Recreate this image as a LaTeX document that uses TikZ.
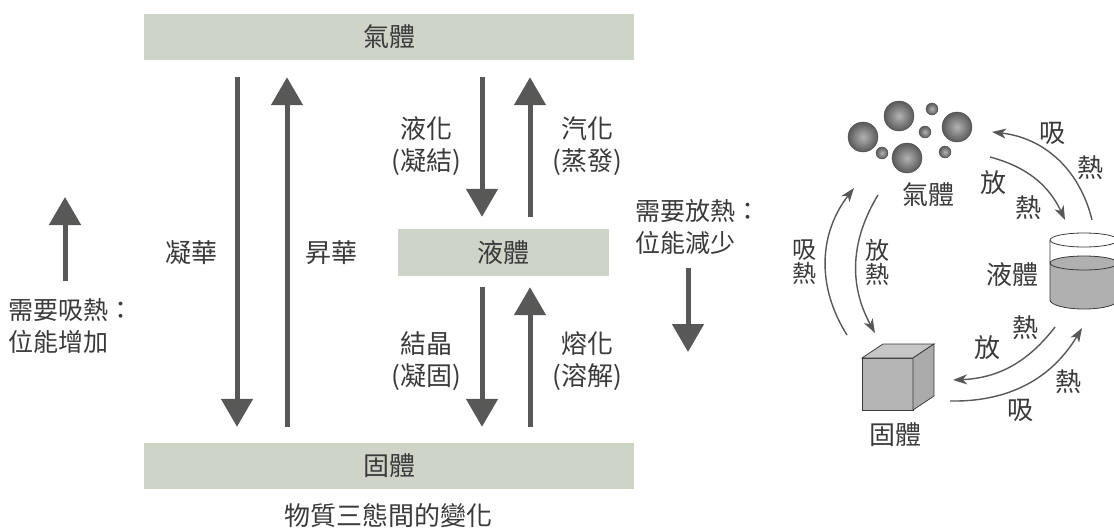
\documentclass[tikz,border=0pt]{standalone}
\usepackage{fontspec}
\setmainfont{Noto Sans CJK TC}
\usetikzlibrary{arrows.meta}
\definecolor{barfill}{RGB}{206,212,200}
\definecolor{ink}{RGB}{58,58,58}
\definecolor{arr}{RGB}{88,89,86}
\begin{document}
\begin{tikzpicture}[x=1pt,y=-1pt,font=\fontsize{26}{32}\selectfont,text=ink,
    bar/.style={fill=barfill,inner sep=0pt,minimum height=46pt},
    big/.style={arr,line width=5pt,-{Triangle[width=31pt,length=28pt]}},
    thin/.style={arr,line width=1.4pt,-{Stealth[length=14pt,width=10pt,inset=4pt]}},
    stack/.style={align=center,font=\fontsize{24}{24}\selectfont},
    bubble/.style={inner color=gray!60,outer color=black!65,draw=gray!60!black,line width=0.4pt}]
    \useasboundingbox (0,0) rectangle (1114,528);
    % three states
    \node[bar,minimum width=490pt] (gas) at (389,37) {氣體};
    \node[bar,minimum width=211pt,minimum height=47pt] (liquid) at (503.5,252.5) {液體};
    \node[bar,minimum width=490pt] (solid) at (389,466) {固體};
    \node (title) at (388,516) {物質三態間的變化};
    % gas <-> solid
    \draw[big,shorten <=17pt,shorten >=16pt] ([xshift=-152pt]gas.south) -- ([xshift=-152pt]solid.north);
    \draw[big,shorten <=16pt,shorten >=17pt] ([xshift=-102pt]solid.north) -- ([xshift=-102pt]gas.south);
    \node (depo) at (191,253) {凝華};
    \node (subl) at (331,253) {昇華};
    % gas <-> liquid
    \draw[big,shorten <=17pt,shorten >=12pt] ([xshift=93pt]gas.south) -- ([xshift=-21.5pt]liquid.north);
    \draw[big,shorten <=12pt,shorten >=17pt] ([xshift=26.5pt]liquid.north) -- ([xshift=141pt]gas.south);
    \node[align=center] (cond) at (426,146) {液化\\(凝結)};
    \node[align=center] (evap) at (587,146) {汽化\\(蒸發)};
    % liquid <-> solid
    \draw[big,shorten <=11pt,shorten >=16pt] ([xshift=-21.5pt]liquid.south) -- ([xshift=93pt]solid.north);
    \draw[big,shorten <=16pt,shorten >=11pt] ([xshift=141pt]solid.north) -- ([xshift=26.5pt]liquid.south);
    \node[align=center] (frz) at (426,361) {結晶\\(凝固)};
    \node[align=center] (melt) at (587,361) {熔化\\(溶解)};
    % energy hints
    \coordinate (upfoot) at (65,281);
    \coordinate (uptip) at (65,197);
    \draw[big] (upfoot) -- (uptip);
    \node[anchor=west,align=left,font=\fontsize{25}{32}\selectfont] (absorb) at (5,326) {需要吸熱：\\位能增加};
    \node[anchor=west,align=left,font=\fontsize{25}{32}\selectfont] (release) at (632,227) {需要放熱：\\位能減少};
    \coordinate (dnfoot) at (688,268);
    \coordinate (dntip) at (688,352);
    \draw[big] (dnfoot) -- (dntip);
    % particles
    \shade[bubble] (863,137) circle (15pt);
    \shade[bubble] (899,116) circle (15pt);
    \shade[bubble] (957,127) circle (15pt);
    \shade[bubble] (907,158) circle (15pt);
    \shade[bubble] (932,109) circle (6pt);
    \shade[bubble] (925,132) circle (6pt);
    \shade[bubble] (882,153) circle (6pt);
    \shade[bubble] (945,152) circle (6pt);
    \node (gasLab) at (928,195) {氣體};
    % beaker
    \fill[gray!62] (1050,263) -- (1050,300) arc[start angle=180,end angle=360,x radius=34pt,y radius=9pt]
        -- (1118,263) arc[start angle=0,end angle=180,x radius=34pt,y radius=7pt] -- cycle;
    \draw[ink,line width=0.8pt] (1084,263) ellipse[x radius=34pt,y radius=7pt];
    \draw[ink,line width=0.8pt] (1084,240) ellipse[x radius=34pt,y radius=7pt];
    \draw[ink,line width=0.8pt] (1050,240) -- (1050,300) arc[start angle=180,end angle=360,x radius=34pt,y radius=9pt] -- (1118,240);
    \node (liqLab) at (1012,275) {液體};
    % cube
    \filldraw[fill=gray!58,draw=ink,line width=0.8pt] (862,358) rectangle (913,410);
    \filldraw[fill=gray!45,draw=ink,line width=0.8pt] (862,358) -- (883,344) -- (934,344) -- (913,358) -- cycle;
    \filldraw[fill=gray!66,draw=ink,line width=0.8pt] (913,358) -- (934,344) -- (934,396) -- (913,410) -- cycle;
    \node (solLab) at (895,435) {固體};
    % phase change arcs
    \coordinate (g2lA) at (990,157);
    \coordinate (g2lB) at (1065,220);
    \coordinate (l2gA) at (1092,220);
    \coordinate (l2gB) at (992,132);
    \coordinate (g2sA) at (878,195);
    \coordinate (g2sB) at (875,333);
    \coordinate (s2gA) at (847,335);
    \coordinate (s2gB) at (854,188);
    \coordinate (l2sA) at (1055,327);
    \coordinate (l2sB) at (953,380);
    \coordinate (s2lA) at (950,401);
    \coordinate (s2lB) at (1082,328);
    \draw[thin] (g2lA) to[bend left=25] (g2lB);
    \draw[thin] (l2gA) to[bend right=35] (l2gB);
    \draw[thin] (g2sA) to[bend right=30] (g2sB);
    \draw[thin] (s2gA) to[bend left=35] (s2gB);
    \draw[thin] (l2sA) to[bend left=25] (l2sB);
    \draw[thin] (s2lA) to[bend right=30] (s2lB);
    \node (xi1) at (1052,133) {吸};
    \node (re1) at (1090,168) {熱};
    \node (fa1) at (993,183) {放};
    \node (re2) at (1028,208) {熱};
    \node[stack] (xiR) at (804,262) {吸\\熱};
    \node[stack] (faR) at (877,262) {放\\熱};
    \node (re3) at (1025,328) {熱};
    \node (fa3) at (987,348) {放};
    \node (re4) at (1068,382) {熱};
    \node (xi4) at (1020,410) {吸};
\end{tikzpicture}
\end{document}
